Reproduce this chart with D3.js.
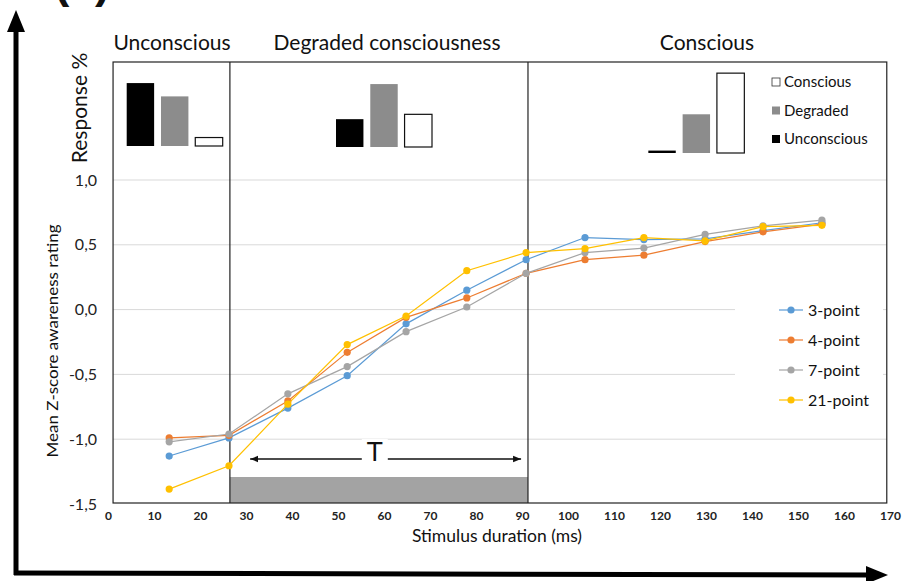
<!DOCTYPE html>
<html>
<head>
<meta charset="utf-8">
<script src="https://cdn.jsdelivr.net/npm/d3@7"></script>
<style>
  body { margin: 0; background: #fff; }
  svg { display: block; font-family: Lato, 'Open Sans', sans-serif; }
</style>
</head>
<body>
<div class="canvas"></div>
<script>
// data
const durations = [13.3, 26.3, 39.1, 52.0, 64.8, 78.0, 90.9, 103.7, 116.5, 129.8, 142.4, 155.2];
const point3  = [-1.13, -0.99, -0.76, -0.51, -0.11, 0.15, 0.385, 0.556, 0.54, 0.545, 0.61, 0.67];
const point4  = [-0.99, -0.97, -0.705, -0.33, -0.06, 0.09, 0.28, 0.385, 0.42, 0.525, 0.60, 0.66];
const point7  = [-1.02, -0.96, -0.65, -0.44, -0.17, 0.02, 0.28, 0.44, 0.475, 0.58, 0.646, 0.69];
const point21 = [-1.385, -1.205, -0.73, -0.27, -0.05, 0.30, 0.44, 0.47, 0.556, 0.53, 0.64, 0.65];
const seriesNames = ['3-point', '4-point', '7-point', '21-point'];
const seriesColors = ['#5b9bd5', '#ed7d31', '#a5a5a5', '#ffc000'];

const xTicks = d3.range(0, 171, 10);
const yTicks = [-1.5, -1.0, -0.5, 0.0, 0.5, 1.0];
const gridTicks = [-1.0, -0.5, 0.0, 0.5, 1.0];

// awareness regions (ms)
const regionNames = ['Unconscious', 'Degraded consciousness', 'Conscious'];
const regionEdges = [1.1, 26.5, 91.3, 169.3];

// response % per region: [Unconscious, Degraded, Conscious]
const responseCats = ['Unconscious', 'Degraded', 'Conscious'];
const responseUnconscious = [52, 41, 7];
const responseDegraded = [23, 52, 27];
const responseConscious = [2, 32, 66];

const svgDims = { width: 904, height: 581 };
const frame = { top: 62, bottom: 503 };

const svg = d3.select('.canvas')
    .append('svg')
    .attr('width', svgDims.width)
    .attr('height', svgDims.height);

svg.append('rect')
    .attr('width', svgDims.width)
    .attr('height', svgDims.height)
    .attr('fill', '#fff');

const x = d3.scaleLinear().domain([0, 170]).range([108, 890]);
const y = d3.scaleLinear().domain([-1.5, 1.0]).range([504, 180]);

const frameLeft = x(regionEdges[0]);
const frameRight = x(regionEdges[3]);

// gridlines
svg.append('g')
    .selectAll('line')
    .data(gridTicks)
    .enter().append('line')
        .attr('x1', frameLeft)
        .attr('x2', frameRight)
        .attr('y1', d => y(d))
        .attr('y2', d => y(d))
        .attr('stroke', '#d9d9d9')
        .attr('stroke-width', 1);

// degraded duration bar
svg.append('rect')
    .attr('x', x(regionEdges[1]))
    .attr('y', 477)
    .attr('width', x(regionEdges[2]) - x(regionEdges[1]))
    .attr('height', frame.bottom - 477)
    .attr('fill', '#a3a3a3');

// frame and region dividers
svg.append('rect')
    .attr('x', frameLeft)
    .attr('y', frame.top)
    .attr('width', frameRight - frameLeft)
    .attr('height', frame.bottom - frame.top)
    .attr('fill', 'none')
    .attr('stroke', '#222')
    .attr('stroke-width', 1.2);

svg.append('g')
    .selectAll('line')
    .data(regionEdges.slice(1, 3))
    .enter().append('line')
        .attr('x1', d => x(d))
        .attr('x2', d => x(d))
        .attr('y1', frame.top)
        .attr('y2', frame.bottom)
        .attr('stroke', '#222')
        .attr('stroke-width', 1.2);

// region titles
svg.append('g')
    .selectAll('text')
    .data(regionNames)
    .enter().append('text')
        .attr('x', (d, i) => [172, 387, 707][i])
        .attr('y', 50)
        .attr('text-anchor', 'middle')
        .attr('font-size', 21)
        .attr('fill', '#111')
        .text(d => d);

// T arrow
const tY = 459;
const defs = svg.append('defs');
defs.append('marker')
    .attr('id', 'tip')
    .attr('viewBox', '0 0 10 10')
    .attr('refX', 10).attr('refY', 5)
    .attr('markerWidth', 5).attr('markerHeight', 5)
    .attr('markerUnits', 'strokeWidth')
    .attr('orient', 'auto-start-reverse')
    .append('path')
        .attr('d', 'M0,1 L10,5 L0,9 Z')
        .attr('fill', '#111');

svg.append('line')
    .attr('x1', x(30.9)).attr('x2', x(89.8))
    .attr('y1', tY).attr('y2', tY)
    .attr('stroke', '#111')
    .attr('stroke-width', 1.6)
    .attr('marker-start', 'url(#tip)')
    .attr('marker-end', 'url(#tip)');
svg.append('rect')
    .attr('x', x(58) - 13).attr('y', tY - 20)
    .attr('width', 26).attr('height', 24)
    .attr('fill', '#fff');
svg.append('text')
    .attr('x', x(58)).attr('y', tY + 2)
    .attr('text-anchor', 'middle')
    .attr('font-size', 27)
    .attr('font-family', 'Arial, Liberation Sans, sans-serif')
    .attr('fill', '#111')
    .text('T');

// series
const series = [point3, point4, point7, point21].map((vals, i) => ({
    name: seriesNames[i],
    color: seriesColors[i],
    values: vals.map((v, j) => ({ t: durations[j], v }))
}));

const line = d3.line()
    .x(d => x(d.t))
    .y(d => y(d.v));

const seriesGroups = svg.append('g')
    .selectAll('g')
    .data(series)
    .enter().append('g');

seriesGroups.append('path')
    .attr('d', d => line(d.values))
    .attr('fill', 'none')
    .attr('stroke', d => d.color)
    .attr('stroke-width', 1.2);

seriesGroups.selectAll('circle')
    .data(d => d.values.map(p => ({ ...p, color: d.color })))
    .enter().append('circle')
        .attr('cx', d => x(d.t))
        .attr('cy', d => y(d.v))
        .attr('r', 3.6)
        .attr('fill', d => d.color);

// axes (labels only)
const fmt = d => d3.format('.1f')(d).replace('.', ',').replace('\u2212', '-');
const yAxis = d3.axisLeft(y).tickValues(yTicks).tickSize(0).tickPadding(16).tickFormat(fmt);
const yAxisGroup = svg.append('g')
    .attr('transform', `translate(${frameLeft}, 0)`)
    .call(yAxis);
yAxisGroup.select('.domain').remove();
yAxisGroup.selectAll('text')
    .attr('font-size', 16)
    .attr('font-family', 'Lato, sans-serif')
    .attr('fill', '#222');

const xAxis = d3.axisBottom(x).tickValues(xTicks).tickSize(0).tickPadding(8);
const xAxisGroup = svg.append('g')
    .attr('transform', `translate(0, ${frame.bottom})`)
    .call(xAxis);
xAxisGroup.select('.domain').remove();
xAxisGroup.selectAll('text')
    .attr('font-size', 12)
    .attr('font-weight', 'bold')
    .attr('font-family', 'Lato, sans-serif')
    .attr('fill', '#222');

// series legend
svg.append('rect')
    .attr('x', 735).attr('y', 292)
    .attr('width', 148).attr('height', 124)
    .attr('fill', '#fff');

const legend = svg.append('g')
    .selectAll('g')
    .data(series)
    .enter().append('g')
        .attr('transform', (d, i) => `translate(779, ${310 + i * 30})`);
legend.append('line')
    .attr('x1', 0).attr('x2', 24)
    .attr('stroke', d => d.color)
    .attr('stroke-width', 1.2);
legend.append('circle')
    .attr('cx', 12).attr('r', 3.6)
    .attr('fill', d => d.color);
legend.append('text')
    .attr('x', 29).attr('dy', '0.35em')
    .attr('font-size', 16)
    .attr('fill', '#111')
    .text(d => d.name);

// response % mini bar charts
const barFill = { Unconscious: '#000', Degraded: '#8c8c8c', Conscious: '#fff' };
const barH = d3.scaleLinear().domain([0, 100]).range([0, 121]);
const panels = [
    { center: 14.5, base: 146, values: responseUnconscious },
    { center: 60.0, base: 147, values: responseDegraded },
    { center: 127.9, base: 153, values: responseConscious }
];

panels.forEach(p => {
    const cx = x(p.center);
    const band = d3.scaleBand()
        .domain(responseCats)
        .range([cx - 48, cx + 48])
        .paddingInner(0.2);
    svg.append('g')
        .selectAll('rect')
        .data(responseCats.map((c, i) => ({ cat: c, v: p.values[i] })))
        .enter().append('rect')
            .attr('x', d => band(d.cat))
            .attr('y', d => p.base - barH(d.v))
            .attr('width', band.bandwidth())
            .attr('height', d => barH(d.v))
            .attr('fill', d => barFill[d.cat])
            .attr('stroke', d => d.cat === 'Conscious' ? '#111' : 'none')
            .attr('stroke-width', 1.2);
});

const miniLegend = svg.append('g')
    .selectAll('g')
    .data(responseCats.slice().reverse())
    .enter().append('g')
        .attr('transform', (d, i) => `translate(772, ${82 + i * 28.5})`);
miniLegend.append('rect')
    .attr('x', 0).attr('y', -4)
    .attr('width', 8).attr('height', 8)
    .attr('fill', d => barFill[d])
    .attr('stroke', d => d === 'Conscious' ? '#333' : 'none')
    .attr('stroke-width', 0.8);
miniLegend.append('text')
    .attr('x', 12).attr('dy', '0.35em')
    .attr('font-size', 15)
    .attr('fill', '#111')
    .text(d => d);

// axis titles
svg.append('text')
    .attr('transform', 'translate(87, 108) rotate(-90)')
    .attr('text-anchor', 'middle')
    .attr('font-size', 21)
    .attr('fill', '#111')
    .text('Response %');

svg.append('text')
    .attr('transform', 'translate(58, 341) rotate(-90)')
    .attr('text-anchor', 'middle')
    .attr('font-size', 16)
    .attr('textLength', 233)
    .attr('lengthAdjust', 'spacingAndGlyphs')
    .attr('fill', '#111')
    .text('Mean Z-score awareness rating');

svg.append('text')
    .attr('x', 497).attr('y', 542)
    .attr('text-anchor', 'middle')
    .attr('font-size', 17)
    .attr('textLength', 170)
    .attr('lengthAdjust', 'spacingAndGlyphs')
    .attr('fill', '#111')
    .text('Stimulus duration (ms)');

// panel label, cut off at the top as in the source figure
svg.append('text')
    .attr('x', 54).attr('y', -3)
    .attr('font-size', 46)
    .attr('font-weight', 'bold')
    .attr('font-family', 'Arial, Liberation Sans, sans-serif')
    .attr('fill', '#111')
    .text('(a)');

// big axis arrows
const arrows = svg.append('g').attr('fill', '#000').attr('stroke', '#000');
arrows.append('line')
    .attr('x1', 16).attr('y1', 575).attr('x2', 16).attr('y2', 28)
    .attr('stroke-width', 5);
arrows.append('path')
    .attr('d', 'M16,10 L7,32 L25,32 Z')
    .attr('stroke', 'none');
arrows.append('line')
    .attr('x1', 14).attr('y1', 573).attr('x2', 870).attr('y2', 575)
    .attr('stroke-width', 5);
arrows.append('path')
    .attr('d', 'M888,575 L866,566 L866,584 Z')
    .attr('stroke', 'none');
</script>
</body>
</html>
